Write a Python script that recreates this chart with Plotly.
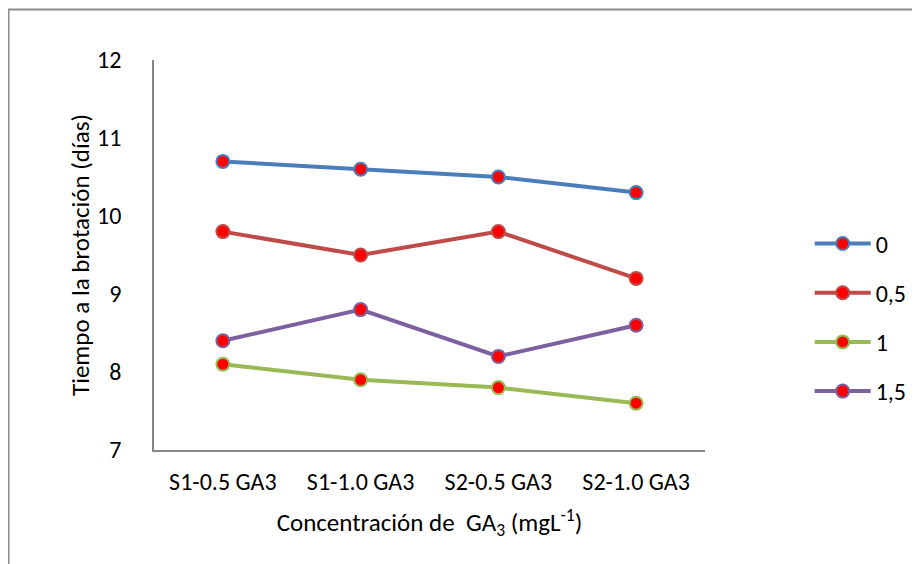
import plotly.graph_objects as go

categories = ["S1-0.5 GA3", "S1-1.0 GA3", "S2-0.5 GA3", "S2-1.0 GA3"]
series_names = ["0", "0,5", "1", "1,5"]
s0 = [10.7, 10.6, 10.5, 10.3]
s05 = [9.8, 9.5, 9.8, 9.2]
s1 = [8.1, 7.9, 7.8, 7.6]
s15 = [8.4, 8.8, 8.2, 8.6]
y_ticks = [7, 8, 9, 10, 11, 12]

colors = ["#4A7EBB", "#BE4B48", "#98B954", "#7D60A0"]
values = [s0, s05, s1, s15]

fig = go.Figure()
for i, (name, vals, col) in enumerate(zip(series_names, values, colors)):
    fig.add_trace(go.Scatter(
        x=categories, y=vals, name=name, mode="lines+markers",
        line=dict(color=col, width=4),
        marker=dict(color="#FF0000", size=13, line=dict(color=col, width=2)),
        legendgroup=f"g{i}",
    ))

font = "Carlito, Lato, 'Open Sans', sans-serif"
fig.update_layout(
    width=920, height=564,
    margin=dict(l=146, r=223, t=52, b=122),
    paper_bgcolor="white", plot_bgcolor="white",
    font=dict(family=font, size=24, color="#000000"),
    showlegend=True,
    legend=dict(x=1.19, xanchor="left", y=0.34, yanchor="middle",
                font=dict(size=24), traceorder="grouped", itemwidth=56,
                tracegroupgap=15, bgcolor="rgba(0,0,0,0)"),
    xaxis=dict(type="category", categoryarray=categories, range=[-0.5, 3.5],
               showline=True, linecolor="#868686", linewidth=1.5,
               showgrid=False, ticks="", tickfont=dict(size=24),
               ticklabelstandoff=9,
               title=dict(text="Concentración de  GA<sub>3</sub> (mgL<sup>-1</sup>)",
                          font=dict(size=25), standoff=19),
               zeroline=False),
    yaxis=dict(range=[7, 12], tickvals=y_ticks, showline=True,
               linecolor="#868686", linewidth=1.5, showgrid=False, ticks="",
               tickfont=dict(size=24), zeroline=False, ticklabelstandoff=26,
               title=dict(text="Tiempo a la brotación (días)", font=dict(size=25),
                          standoff=0)),
    shapes=[dict(type="rect", xref="paper", yref="paper",
                 x0=-0.264, x1=1.5, y0=-0.5, y1=1.1295,
                 line=dict(color="#8c8c8c", width=2), fillcolor="rgba(0,0,0,0)",
                 layer="below")],
)

fig.write_html("out.html")
